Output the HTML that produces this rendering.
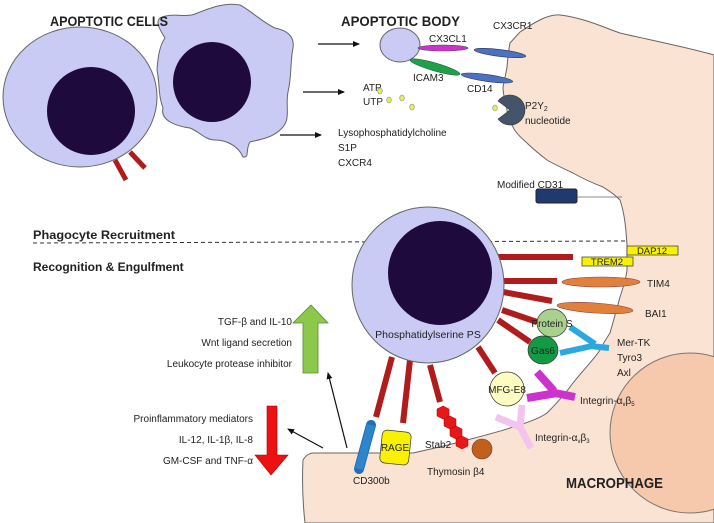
<!DOCTYPE html>
<html><head><meta charset="utf-8"><style>
html,body{margin:0;padding:0;background:#fff}
svg{display:block}
text{font-family:"Liberation Sans",sans-serif;fill:#222}
</style></head><body>
<svg width="714" height="523" viewBox="0 0 714 523" xmlns="http://www.w3.org/2000/svg">
<defs>
<marker id="ah" markerWidth="8" markerHeight="8" refX="6" refY="3" orient="auto" markerUnits="userSpaceOnUse"><path d="M0,0 L7,3 L0,6 z" fill="#111"/></marker>
</defs>
<!-- macrophage -->
<path d="M520,32 C535,22 548,14 560,15 C585,18 605,28 620,33 C650,40 690,48 714,55 L714,523 L305,523 C303,505 302,480 303,460 C306,455 310,453 313,453 L413,453 C440,447 460,442 467,440 C490,434 505,430 513,427 C530,422 540,418 547,413 C560,400 568,390 573,383 C585,368 595,358 600,350 C605,340 608,336 610,333 C615,315 618,305 620,297 C624,285 626,278 627,270 C627,258 627,250 627,245 C626,230 625,215 620,200 C612,192 607,190 603,187 C590,182 580,177 573,173 C560,167 552,163 547,160 C538,153 532,148 527,143 C520,137 515,132 513,127 C509,120 507,115 507,110 C505,100 503,95 503,87 C505,78 506,72 507,67 C508,55 509,48 510,43 Z" fill="#fbe3d3" stroke="#666" stroke-width="1"/>
<circle cx="690" cy="433" r="80" fill="#f6c9ac" stroke="#777" stroke-width="1"/>

<!-- apoptotic cells -->
<ellipse cx="80" cy="97" rx="77" ry="70" fill="#c9cbf5" stroke="#666"/>
<circle cx="91" cy="111" r="44" fill="#1e0a3c"/>
<line x1="115" y1="160" x2="126" y2="180" stroke="#b01c1c" stroke-width="5"/>
<line x1="130" y1="152" x2="145" y2="168" stroke="#b01c1c" stroke-width="5"/>
<path d="M160,18 C172,12 185,18 195,14 C210,8 225,2 240,5 C250,10 262,22 275,28 C285,30 295,35 293,48 C290,62 292,75 288,92 C285,108 292,120 280,130 C272,138 258,140 250,142 C245,150 250,158 243,157 C238,145 225,140 215,140 C205,140 200,132 190,128 C175,126 160,120 163,108 C158,95 160,85 157,70 C158,55 160,45 165,38 C160,30 155,22 160,18 Z" fill="#c9cbf5" stroke="#666"/>
<ellipse cx="212" cy="82" rx="39" ry="40" fill="#1e0a3c"/>
<text x="50" y="26" font-size="14" font-weight="bold" fill="#111" textLength="118" lengthAdjust="spacingAndGlyphs">APOPTOTIC CELLS</text>

<!-- arrows top -->
<line x1="318" y1="44" x2="359" y2="44" stroke="#111" stroke-width="1.3" marker-end="url(#ah)"/>
<line x1="303" y1="92" x2="344" y2="92" stroke="#111" stroke-width="1.3" marker-end="url(#ah)"/>
<line x1="280" y1="135" x2="321" y2="135" stroke="#111" stroke-width="1.3" marker-end="url(#ah)"/>

<text x="341" y="26" font-size="14" font-weight="bold" fill="#111" textLength="119" lengthAdjust="spacingAndGlyphs">APOPTOTIC BODY</text>
<text x="493" y="29" font-size="10">CX3CR1</text>
<ellipse cx="400" cy="45" rx="20" ry="17" fill="#c9cbf5" stroke="#666"/>
<text x="429" y="42" font-size="10">CX3CL1</text>
<ellipse cx="443" cy="48" rx="25" ry="3" fill="#cc33cc" stroke="#444" stroke-width="0.6"/>
<ellipse cx="500" cy="53" rx="26" ry="3.5" transform="rotate(7 500 53)" fill="#4a72c0" stroke="#335" stroke-width="0.6"/>
<ellipse cx="435" cy="67" rx="26" ry="4" transform="rotate(16 435 67)" fill="#21a04a" stroke="#264" stroke-width="0.6"/>
<text x="413" y="81" font-size="10">ICAM3</text>
<ellipse cx="487" cy="78" rx="26" ry="3.5" transform="rotate(8 487 78)" fill="#4a72c0" stroke="#335" stroke-width="0.6"/>
<text x="467" y="92" font-size="10">CD14</text>
<text x="363" y="91" font-size="10">ATP</text>
<text x="363" y="105" font-size="10">UTP</text>
<g fill="#e4ee5a" stroke="#888" stroke-width="0.6">
<ellipse cx="380" cy="91" rx="2.3" ry="3"/><ellipse cx="389" cy="100" rx="2.3" ry="3"/><ellipse cx="402" cy="98" rx="2.3" ry="3"/><ellipse cx="412" cy="107" rx="2.3" ry="3"/><ellipse cx="495" cy="108" rx="2.3" ry="3"/>
</g>
<path d="M510,110 L498,101 A15,15 0 1 1 498,119 Z" fill="#44546a" stroke="#333" stroke-width="0.6"/>
<text x="525" y="109" font-size="10">P2Y<tspan font-size="7" dy="2">2</tspan></text>
<text x="525" y="124" font-size="10">nucleotide</text>
<text x="338" y="136" font-size="10">Lysophosphatidylcholine</text>
<text x="338" y="151" font-size="10">S1P</text>
<text x="338" y="166" font-size="10">CXCR4</text>
<text x="497" y="188" font-size="10">Modified CD31</text>
<rect x="536" y="189" width="41" height="14" rx="2" fill="#1f3a6e" stroke="#223"/>
<line x1="577" y1="197" x2="622" y2="197" stroke="#666" stroke-width="0.8"/>

<!-- divider -->
<text x="33" y="239" font-size="12" font-weight="bold" fill="#111" textLength="142" lengthAdjust="spacingAndGlyphs">Phagocyte Recruitment</text>
<line x1="33" y1="243" x2="625" y2="241" stroke="#333" stroke-width="1" stroke-dasharray="4,3"/>
<text x="33" y="271" font-size="12" font-weight="bold" fill="#111">Recognition &amp; Engulfment</text>

<!-- rays -->
<g stroke="#b01c1c" stroke-width="6">
<line x1="497" y1="257" x2="573" y2="257"/>
<line x1="503" y1="281" x2="557" y2="281"/>
<line x1="503" y1="292" x2="552" y2="301"/>
<line x1="502" y1="310" x2="537" y2="322"/>
<line x1="498" y1="320" x2="530" y2="342"/>
<line x1="478" y1="347" x2="495" y2="373"/>
<line x1="392" y1="357" x2="376" y2="417"/>
<line x1="410" y1="360" x2="403" y2="423"/>
<line x1="430" y1="365" x2="440" y2="402"/>
</g>

<!-- phagocytosed cell -->
<ellipse cx="428" cy="285" rx="76" ry="78" fill="#c9cbf5" stroke="#666"/>
<circle cx="440" cy="273" r="52" fill="#1e0a3c"/>
<text x="428" y="338" font-size="10.5" text-anchor="middle">Phosphatidylserine PS</text>

<rect x="627" y="246" width="51" height="9" fill="#f8f200" stroke="#333" stroke-width="0.7"/>
<text x="652" y="254" font-size="9.5" text-anchor="middle">DAP12</text>
<rect x="582" y="257" width="51" height="9" fill="#f8f200" stroke="#333" stroke-width="0.7"/>
<text x="607" y="265" font-size="9.5" text-anchor="middle">TREM2</text>
<ellipse cx="601" cy="282" rx="39" ry="5" fill="#e0803a" stroke="#844" stroke-width="0.6"/>
<text x="647" y="287" font-size="10">TIM4</text>
<ellipse cx="595" cy="308" rx="38" ry="5" transform="rotate(4 595 308)" fill="#e0803a" stroke="#844" stroke-width="0.6"/>
<text x="645" y="317" font-size="10">BAI1</text>

<!-- Mer-TK Y -->
<g stroke="#2aa9e0" stroke-width="6" fill="none" stroke-linecap="butt">
<line x1="570" y1="327" x2="595" y2="344"/>
<line x1="560" y1="353" x2="592" y2="346"/>
<line x1="590" y1="346" x2="609" y2="348"/>
</g>
<ellipse cx="552" cy="323" rx="15" ry="14" fill="#a9d18e" stroke="#333" stroke-width="0.7"/>
<text x="552" y="327" font-size="10" text-anchor="middle">Protein S</text>
<ellipse cx="543" cy="350" rx="15" ry="14" fill="#139a45" stroke="#333" stroke-width="0.7"/>
<text x="543" y="354" font-size="10" text-anchor="middle">Gas6</text>
<text x="617" y="346" font-size="10">Mer-TK</text>
<text x="617" y="361" font-size="10">Tyro3</text>
<text x="617" y="376" font-size="10">Axl</text>

<!-- integrin b5 -->
<g stroke="#cc33cc" stroke-width="8" fill="none">
<line x1="537" y1="372" x2="554" y2="391"/>
<line x1="527" y1="398" x2="557" y2="393"/>
<line x1="555" y1="393" x2="575" y2="397"/>
</g>
<ellipse cx="507" cy="389" rx="17" ry="17" fill="#fdfcc0" stroke="#333" stroke-width="0.7"/>
<text x="507" y="393" font-size="10" text-anchor="middle">MFG-E8</text>
<text x="580" y="404" font-size="10">Integrin-α<tspan font-size="6" dy="2">v</tspan><tspan dy="-2">β</tspan><tspan font-size="6" dy="2">5</tspan></text>
<!-- integrin b3 -->
<g stroke="#f2c4ee" stroke-width="7" fill="none">
<line x1="522" y1="405" x2="520" y2="427"/>
<line x1="496" y1="417" x2="520" y2="427"/>
<line x1="520" y1="427" x2="531" y2="448"/>
</g>
<text x="535" y="441" font-size="10">Integrin-α<tspan font-size="6" dy="2">v</tspan><tspan dy="-2">β</tspan><tspan font-size="6" dy="2">3</tspan></text>

<!-- bottom receptors -->
<line x1="371" y1="425" x2="359" y2="469" stroke="#1f6fb8" stroke-width="10" stroke-linecap="round"/>
<line x1="371" y1="425" x2="359" y2="469" stroke="#2f85cc" stroke-width="8"/>
<rect x="381" y="431" width="29" height="33" rx="5" transform="rotate(6 395 447)" fill="#f8f200" stroke="#333" stroke-width="0.7"/>
<text x="395" y="451" font-size="10" text-anchor="middle">RAGE</text>
<text x="353" y="484" font-size="10">CD300b</text>
<g fill="#e81818" stroke="#a00" stroke-width="0.5">
<polygon points="443,406 449,409 449,416 443,419 437,416 437,409"/>
<polygon points="450,416 456,419 456,426 450,429 444,426 444,419"/>
<polygon points="456,426 462,429 462,436 456,439 450,436 450,429"/>
<polygon points="462,436 468,439 468,446 462,449 456,446 456,439"/>
</g>
<circle cx="482" cy="449" r="10" fill="#c0601c" stroke="#633" stroke-width="0.6"/>
<text x="425" y="448" font-size="10">Stab2</text>
<text x="427" y="475" font-size="10">Thymosin β4</text>
<text x="566" y="488" font-size="15" font-weight="bold" fill="#111" textLength="97" lengthAdjust="spacingAndGlyphs">MACROPHAGE</text>

<!-- left side -->
<polygon points="311,305 328,323 318,323 318,373 303,373 303,323 293,323" fill="#8cc84b" stroke="#5a8a2a" stroke-width="0.8"/>
<text x="292" y="325" font-size="10" text-anchor="end">TGF-β and IL-10</text>
<text x="292" y="346" font-size="10" text-anchor="end">Wnt ligand secretion</text>
<text x="292" y="367" font-size="10" text-anchor="end">Leukocyte protease inhibitor</text>
<polygon points="267,406 277,406 277,455 288,455 271,475 255,455 267,455" fill="#ee1111" stroke="#a00" stroke-width="0.6"/>
<text x="253" y="422" font-size="10" text-anchor="end">Proinflammatory mediators</text>
<text x="253" y="443" font-size="10" text-anchor="end">IL-12, IL-1β, IL-8</text>
<text x="253" y="464" font-size="10" text-anchor="end">GM-CSF and TNF-α</text>
<line x1="347" y1="448" x2="328" y2="373" stroke="#111" stroke-width="1.2" marker-end="url(#ah)"/>
<line x1="323" y1="448" x2="288" y2="429" stroke="#111" stroke-width="1.2" marker-end="url(#ah)"/>
</svg>
</body></html>
